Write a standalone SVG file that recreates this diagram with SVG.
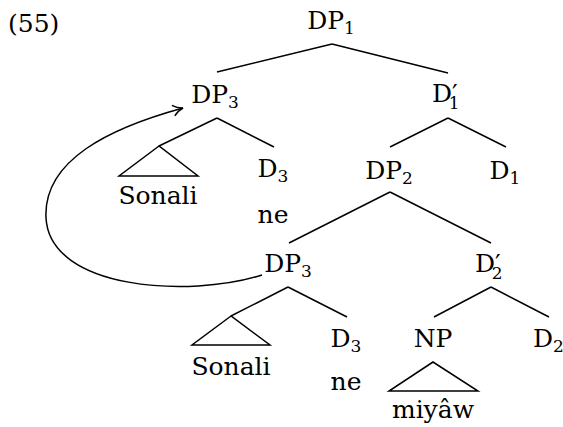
<svg xmlns="http://www.w3.org/2000/svg" width="563" height="427" viewBox="0 0 563 427">
<style>
text{font-family:'DejaVu Serif','Liberation Serif','Noto Serif',serif;font-size:25px;fill:#000}
.s{font-size:17px}
.e line,.e polygon,.e path{stroke:#000;stroke-width:1.5;fill:none}
</style>
<defs>
<marker id="ah" markerWidth="14" markerHeight="14" refX="11" refY="7" orient="auto" markerUnits="userSpaceOnUse">
<path d="M1,1.5 Q6,6 11,7 Q6,8 1,12.5" fill="none" stroke="#000" stroke-width="1.5"/>
</marker>
</defs>
<text x="8" y="32">(55)</text>
<g class="e" id="connectors">
<line x1="332" y1="44" x2="217" y2="72"/>
<line x1="332" y1="44" x2="448" y2="73"/>
<line x1="217" y1="118" x2="159" y2="146"/>
<line x1="217" y1="118" x2="274" y2="147"/>
<polygon points="159,146 119,176 198,176"/>
<line x1="448" y1="118" x2="390" y2="147"/>
<line x1="448" y1="118" x2="506" y2="147"/>
<line x1="390" y1="192" x2="289" y2="243"/>
<line x1="390" y1="192" x2="491" y2="243"/>
<line x1="288" y1="287" x2="231" y2="316"/>
<line x1="288" y1="287" x2="347" y2="317"/>
<polygon points="231,316 192,345 270,345"/>
<line x1="491" y1="287" x2="434" y2="317"/>
<line x1="491" y1="287" x2="549" y2="317"/>
<polygon points="433,362 389,391 478,391"/>
<path d="M262,275 C190,298 50,290 46,218 C43,160 110,128 183,108" marker-end="url(#ah)"/>
</g>
<g id="dp1"><text x="331" y="29" text-anchor="middle">DP<tspan class="s" dy="5">1</tspan></text></g>
<g id="dp3a"><text x="215" y="103" text-anchor="middle">DP<tspan class="s" dy="5">3</tspan></text></g>
<g id="d1bar"><text x="432" y="102">D′<tspan class="s" dx="-9" dy="7">1</tspan></text></g>
<g id="sonali1"><text x="158" y="204" text-anchor="middle">Sonali</text></g>
<g id="d3a"><text x="273" y="177" text-anchor="middle">D<tspan class="s" dy="5">3</tspan></text></g>
<g id="ne1"><text x="273" y="223" text-anchor="middle">ne</text></g>
<g id="dp2"><text x="389" y="179" text-anchor="middle">DP<tspan class="s" dy="5">2</tspan></text></g>
<g id="d1"><text x="505" y="179" text-anchor="middle">D<tspan class="s" dy="5">1</tspan></text></g>
<g id="dp3b"><text x="288" y="272" text-anchor="middle">DP<tspan class="s" dy="5">3</tspan></text></g>
<g id="d2bar"><text x="475" y="272">D′<tspan class="s" dx="-9" dy="7">2</tspan></text></g>
<g id="sonali2"><text x="231" y="375" text-anchor="middle">Sonali</text></g>
<g id="d3b"><text x="346" y="347" text-anchor="middle">D<tspan class="s" dy="5">3</tspan></text></g>
<g id="ne2"><text x="346" y="390" text-anchor="middle">ne</text></g>
<g id="np"><text x="433" y="347" text-anchor="middle">NP</text></g>
<g id="d2"><text x="533" y="347">D<tspan class="s" dy="5">2</tspan></text></g>
<g id="miyaw"><text x="433" y="418" text-anchor="middle">miyâw</text></g>
</svg>
